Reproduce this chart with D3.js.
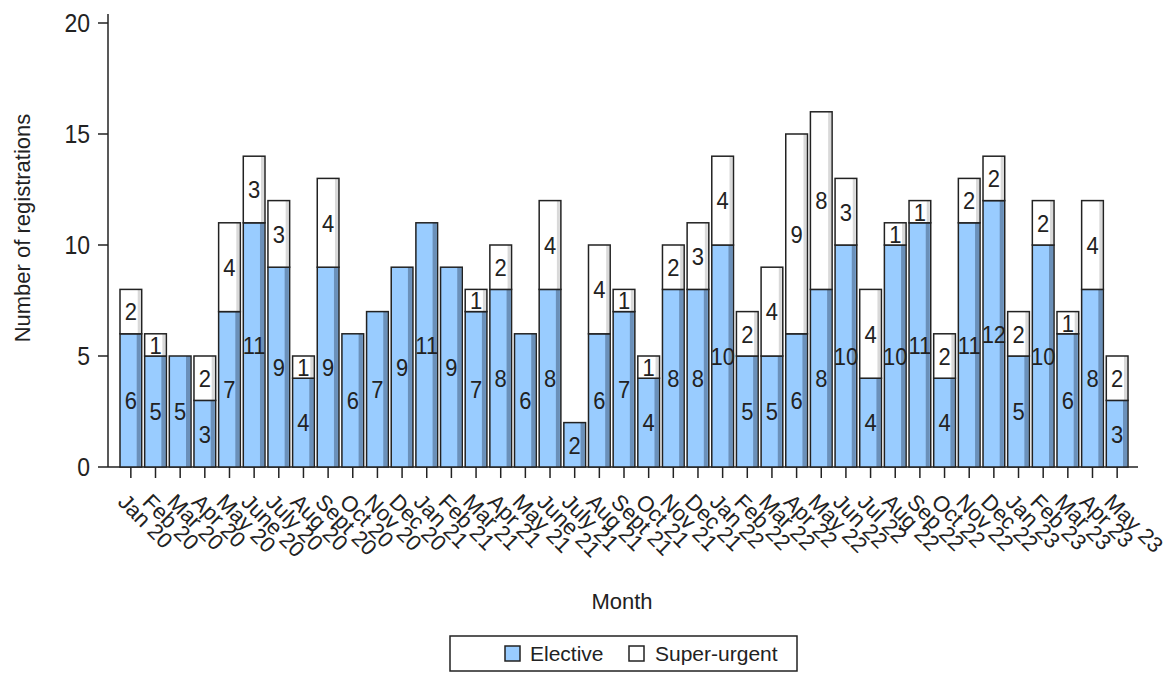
<!DOCTYPE html>
<html>
<head>
<meta charset="utf-8">
<script src="https://cdn.jsdelivr.net/npm/d3@7"></script>
<style>
  html, body { margin: 0; padding: 0; background: #fff; }
  svg { display: block; }
  text { font-family: "Liberation Sans", Arial, sans-serif; fill: #222; }
</style>
</head>
<body>
<svg id="chart" width="1175" height="679"></svg>
<script>
const months = ["Jan 20","Feb 20","Mar 20","Apr 20","May 20","June 20","July 20","Aug 20","Sept 20","Oct 20","Nov 20","Dec 20",
  "Jan 21","Feb 21","Mar 21","Apr 21","May 21","June 21","July 21","Aug 21","Sept 21","Oct 21","Nov 21","Dec 21",
  "Jan 22","Feb 22","Mar 22","Apr 22","May 22","Jun 22","Jul 22","Aug 22","Sep 22","Oct 22","Nov 22","Dec 22",
  "Jan 23","Feb 23","Mar 23","Apr 23","May 23"];
const elective = [6,5,5,3,7,11,9,4,9,6,7,9, 11,9,7,8,6,8,2,6,7,4,8,8, 10,5,5,6,8,10,4,10,11,4,11,12, 5,10,6,8,3];
const superUrgent = [2,1,0,2,4,3,3,1,4,0,0,0, 0,0,1,2,0,4,0,4,1,1,2,3, 4,2,4,9,8,3,4,1,1,2,2,2, 2,2,1,4,2];
const yTicks = [0,5,10,15,20];
const seriesNames = ["Elective","Super-urgent"];

const svg = d3.select("#chart");
const x = d3.scaleBand().domain(months).range([120, 1128]).paddingInner(0.12).paddingOuter(0);
const y = d3.scaleLinear().domain([0, 20]).range([467, 23]);
const blue = "#99ccff";
const stretch = 1.12;

// y axis
const yAxis = svg.append("g").attr("transform", "translate(108,0)")
  .call(d3.axisLeft(y).tickValues(yTicks).tickSize(10).tickPadding(8));
yAxis.select(".domain").remove();
yAxis.selectAll("line").attr("stroke", "#222").attr("stroke-width", 1.5);
yAxis.selectAll("text").style("font-size", "23px").attr("fill", "#222")
  .attr("dy", null).attr("dominant-baseline", "central")
  .attr("transform", function() { return `scale(1,${stretch})`; })
  .attr("y", 0);
yAxis.selectAll(".tick").each(function(d) {
  d3.select(this).attr("transform", `translate(0,${y(d)})`);
});
svg.append("line").attr("x1", 108).attr("x2", 108).attr("y1", 14).attr("y2", y(0))
  .attr("stroke", "#222").attr("stroke-width", 1.5);

// x axis
const xAxis = svg.append("g").attr("transform", `translate(0,${y(0)})`)
  .call(d3.axisBottom(x).tickSize(11).tickSizeOuter(0));
xAxis.select(".domain").remove();
svg.append("line").attr("x1", 108).attr("x2", 1138).attr("y1", y(0)).attr("y2", y(0))
  .attr("stroke", "#222").attr("stroke-width", 1.5);
xAxis.selectAll("line").attr("stroke", "#222").attr("stroke-width", 1.5);
xAxis.selectAll("text")
  .style("font-size", "22px").attr("fill", "#222")
  .attr("text-anchor", "start")
  .attr("y", 0).attr("x", 0).attr("dy", "0.72em")
  .attr("transform", "translate(-3,25) rotate(45)");

// bars
const bars = svg.append("g");
function valueLabel(g, cx, cy, v) {
  g.append("text").attr("transform", `translate(${cx},${cy}) scale(1,${stretch})`)
    .attr("dy", "0.36em").attr("text-anchor", "middle").style("font-size", "22px").text(v);
}
months.forEach((m, i) => {
  const bx = x(m), bw = x.bandwidth();
  const e = elective[i], s = superUrgent[i];
  const g = bars.append("g");
  if (e > 0) {
    g.append("rect").attr("x", bx).attr("y", y(e)).attr("width", bw).attr("height", y(0) - y(e))
      .attr("fill", blue);
    g.append("rect").attr("x", bx + bw - 5).attr("y", y(e)).attr("width", 4).attr("height", y(0) - y(e))
      .attr("fill", "rgba(50,70,100,0.45)");
    g.append("rect").attr("x", bx).attr("y", y(e)).attr("width", bw).attr("height", y(0) - y(e))
      .attr("fill", "none").attr("stroke", "#222").attr("stroke-width", 1.5);
    valueLabel(g, bx + bw / 2, (y(0) + y(e)) / 2, e);
  }
  if (s > 0) {
    g.append("rect").attr("x", bx).attr("y", y(e + s)).attr("width", bw).attr("height", y(e) - y(e + s))
      .attr("fill", "#fff");
    g.append("rect").attr("x", bx + bw - 4).attr("y", y(e + s)).attr("width", 3).attr("height", y(e) - y(e + s))
      .attr("fill", "rgba(0,0,0,0.15)");
    g.append("rect").attr("x", bx).attr("y", y(e + s)).attr("width", bw).attr("height", y(e) - y(e + s))
      .attr("fill", "none").attr("stroke", "#222").attr("stroke-width", 1.5);
    valueLabel(g, bx + bw / 2, (y(e) + y(e + s)) / 2, s);
  }
});

// axis titles
svg.append("text").attr("transform", "translate(30,228) rotate(-90)")
  .attr("text-anchor", "middle").style("font-size", "22px").text("Number of registrations");
svg.append("text").attr("x", 622).attr("y", 609).attr("text-anchor", "middle")
  .style("font-size", "22px").text("Month");

// legend
const leg = svg.append("g");
leg.append("rect").attr("x", 450).attr("y", 636).attr("width", 347).attr("height", 35)
  .attr("fill", "#fff").attr("stroke", "#222").attr("stroke-width", 1.5);
const legItems = [{name: seriesNames[0], fill: blue, sx: 505, tx: 530},
                  {name: seriesNames[1], fill: "#fff", sx: 629, tx: 655}];
legItems.forEach(d => {
  leg.append("rect").attr("x", d.sx).attr("y", 646).attr("width", 15).attr("height", 15)
    .attr("fill", d.fill).attr("stroke", "#222").attr("stroke-width", 1.5);
  leg.append("text").attr("x", d.tx).attr("y", 661).style("font-size", "21px").text(d.name);
});
</script>
</body>
</html>
